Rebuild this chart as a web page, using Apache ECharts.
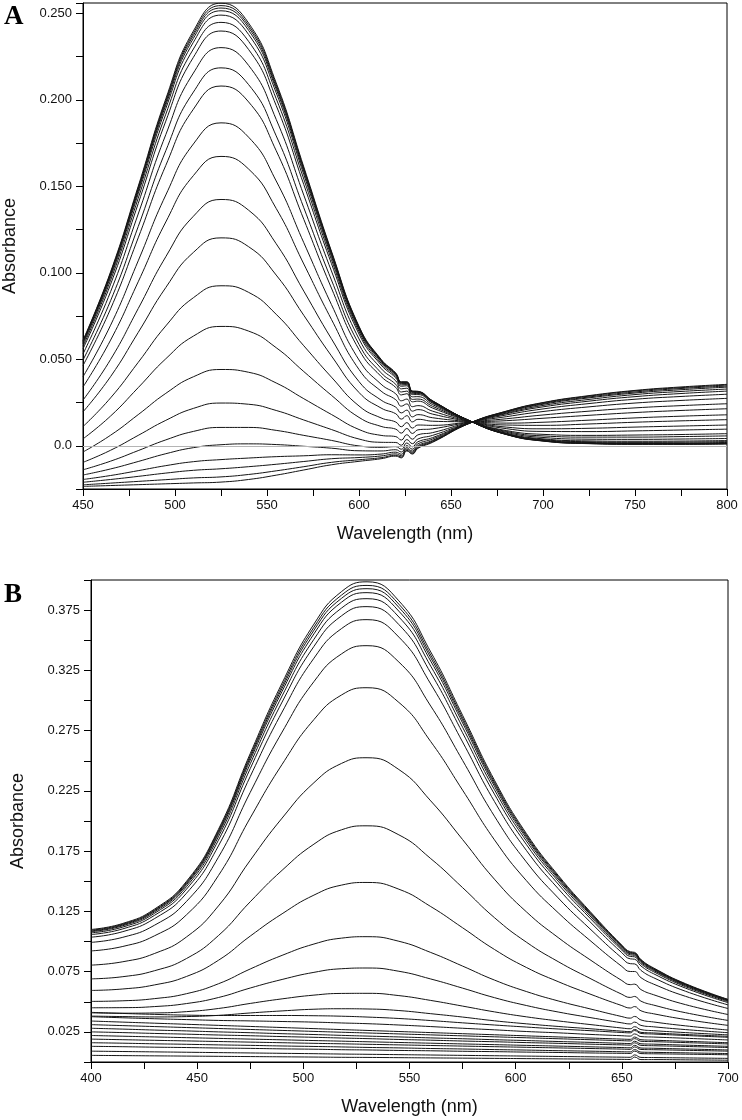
<!DOCTYPE html>
<html>
<head>
<meta charset="utf-8">
<script src="https://cdn.jsdelivr.net/npm/echarts@6/dist/echarts.min.js"></script>
<style>
html,body{margin:0;padding:0;background:#fff;}
#chart{width:742px;height:1120px;}
</style>
</head>
<body>
<div id="chart"></div>
<script>
// ---------- Panel A data ----------
const wavelengthsA = [450, 465, 480, 495, 510, 525, 540, 555, 570, 585, 600, 612, 620, 623, 626, 629, 632, 640, 660, 680, 700, 725, 750, 775, 800];
const A01 = [0.061, 0.1006, 0.150, 0.2006, 0.2398, 0.2559, 0.2444, 0.2098, 0.1612, 0.1126, 0.0691, 0.050, 0.042, 0.037, 0.037, 0.0317, 0.0315, 0.026, 0.0145, 0.0065, 0.0027, 0.0012, 0.0008, 0.0008, 0.001];
const A02 = [0.0606, 0.1000, 0.1491, 0.1995, 0.2385, 0.2545, 0.2431, 0.2087, 0.1603, 0.1120, 0.0687, 0.0497, 0.0418, 0.0368, 0.0368, 0.0315, 0.0313, 0.0259, 0.0145, 0.0066, 0.0028, 0.0013, 0.001, 0.001, 0.0012];
const A03 = [0.0602, 0.0994, 0.1483, 0.1984, 0.2372, 0.2531, 0.2418, 0.2075, 0.1595, 0.1114, 0.0683, 0.0494, 0.0415, 0.0366, 0.0366, 0.0313, 0.0312, 0.0258, 0.0145, 0.0066, 0.0029, 0.0015, 0.0011, 0.0011, 0.0013];
const A04 = [0.0597, 0.0986, 0.1472, 0.1970, 0.2356, 0.2515, 0.2402, 0.2062, 0.1584, 0.1106, 0.0679, 0.0491, 0.0412, 0.0363, 0.0364, 0.0311, 0.031, 0.0256, 0.0145, 0.0067, 0.0031, 0.0016, 0.0013, 0.0013, 0.0016];
const A05 = [0.0589, 0.0975, 0.1457, 0.1950, 0.2333, 0.2490, 0.2378, 0.2041, 0.1568, 0.1095, 0.0671, 0.0486, 0.0408, 0.0359, 0.036, 0.0308, 0.0307, 0.0254, 0.0145, 0.0068, 0.0033, 0.0019, 0.0016, 0.0016, 0.0019];
const A06 = [0.0576, 0.0957, 0.1431, 0.1917, 0.2294, 0.2448, 0.2338, 0.2007, 0.1542, 0.1077, 0.066, 0.0477, 0.0401, 0.0352, 0.0354, 0.0302, 0.0302, 0.025, 0.0144, 0.007, 0.0036, 0.0023, 0.002, 0.0021, 0.0024];
const A07 = [0.0561, 0.0934, 0.1400, 0.1877, 0.2246, 0.2398, 0.2291, 0.1967, 0.1510, 0.1054, 0.0646, 0.0467, 0.0392, 0.0344, 0.0347, 0.0296, 0.0296, 0.0246, 0.0144, 0.0073, 0.004, 0.0028, 0.0026, 0.0027, 0.003];
const A08 = [0.0531, 0.0891, 0.1340, 0.1799, 0.2155, 0.2302, 0.2199, 0.1887, 0.1449, 0.1011, 0.0618, 0.0447, 0.0375, 0.0329, 0.0333, 0.0283, 0.0284, 0.0238, 0.0144, 0.0078, 0.0048, 0.0038, 0.0037, 0.0039, 0.0042];
const A09 = [0.0496, 0.0839, 0.1267, 0.1706, 0.2045, 0.2185, 0.2088, 0.1792, 0.1376, 0.0959, 0.0586, 0.0422, 0.0355, 0.0311, 0.0316, 0.0268, 0.027, 0.0228, 0.0143, 0.0083, 0.0057, 0.005, 0.005, 0.0053, 0.0057];
const A10 = [0.0464, 0.0792, 0.1202, 0.1621, 0.1946, 0.2080, 0.1988, 0.1706, 0.1309, 0.0912, 0.0556, 0.0401, 0.0337, 0.0294, 0.0301, 0.0254, 0.0258, 0.0218, 0.0142, 0.0088, 0.0066, 0.006, 0.0062, 0.0065, 0.007];
const A11 = [0.0399, 0.0697, 0.1069, 0.1450, 0.1745, 0.1867, 0.1784, 0.1531, 0.1174, 0.0817, 0.0496, 0.0356, 0.03, 0.026, 0.027, 0.0226, 0.0232, 0.02, 0.0141, 0.0099, 0.0083, 0.0082, 0.0086, 0.0091, 0.0096];
const A12 = [0.0340, 0.0611, 0.0948, 0.1294, 0.1562, 0.1673, 0.1600, 0.1372, 0.1051, 0.0731, 0.0441, 0.0316, 0.0266, 0.0229, 0.0242, 0.02, 0.0209, 0.0183, 0.014, 0.0108, 0.0098, 0.0101, 0.0108, 0.0114, 0.012];
const A13 = [0.0264, 0.0499, 0.0793, 0.1093, 0.1327, 0.1424, 0.1362, 0.1168, 0.0894, 0.0619, 0.0371, 0.0264, 0.0223, 0.019, 0.0206, 0.0167, 0.018, 0.0162, 0.0139, 0.012, 0.0118, 0.0126, 0.0136, 0.0144, 0.0151];
const A14 = [0.0196, 0.0400, 0.0655, 0.0915, 0.1118, 0.1202, 0.1151, 0.0987, 0.0754, 0.0520, 0.0308, 0.0218, 0.0185, 0.0154, 0.0174, 0.0138, 0.0153, 0.0142, 0.0138, 0.0131, 0.0136, 0.0148, 0.0161, 0.0171, 0.0179];
const A15 = [0.0111, 0.0277, 0.0482, 0.0693, 0.0856, 0.0925, 0.0887, 0.0760, 0.0578, 0.0397, 0.023, 0.0161, 0.0137, 0.011, 0.0134, 0.0102, 0.012, 0.0118, 0.0136, 0.0145, 0.0159, 0.0176, 0.0192, 0.0204, 0.0214];
const A16 = [0.0040, 0.0172, 0.0336, 0.0503, 0.0634, 0.0690, 0.0663, 0.0567, 0.0429, 0.0292, 0.0164, 0.0112, 0.0096, 0.0073, 0.010, 0.0071, 0.0092, 0.0098, 0.0135, 0.0156, 0.0178, 0.02, 0.0219, 0.0232, 0.0243];
const A17 = [-0.0036, 0.0061, 0.0180, 0.0303, 0.0399, 0.0441, 0.0425, 0.0363, 0.0272, 0.0181, 0.0094, 0.006, 0.0053, 0.0033, 0.0064, 0.0038, 0.0063, 0.0076, 0.0134, 0.0168, 0.0198, 0.0225, 0.0247, 0.0262, 0.0274];
const A18 = [-0.0096, -0.0026, 0.0060, 0.0147, 0.0216, 0.0247, 0.0240, 0.0204, 0.0149, 0.0094, 0.0039, 0.002, 0.0019, 0.0003, 0.0036, 0.0012, 0.0039, 0.006, 0.0132, 0.0178, 0.0213, 0.0244, 0.0269, 0.0285, 0.0298];
const A19 = [-0.0139, -0.0089, -0.0028, 0.0034, 0.0083, 0.0106, 0.0106, 0.0089, 0.0060, 0.0031, -0.0001, -0.0009, -0.0005, -0.002, 0.0016, -0.0006, 0.0023, 0.0047, 0.0132, 0.0185, 0.0225, 0.0258, 0.0284, 0.0302, 0.0316];
const A20 = [-0.0169, -0.0134, -0.0091, -0.0046, -0.0011, 0.0006, 0.0011, 0.0007, -0.0003, -0.0014, -0.0029, -0.003, -0.0023, -0.0036, 0.0001, -0.002, 0.0011, 0.0039, 0.0131, 0.0189, 0.0233, 0.0268, 0.0296, 0.0314, 0.0328];
const A21 = [-0.0195, -0.0172, -0.0144, -0.0115, -0.0092, -0.0080, -0.0071, -0.0063, -0.0058, -0.0052, -0.0053, -0.0048, -0.0037, -0.0049, -0.0011, -0.0031, 0.0001, 0.0031, 0.0131, 0.0194, 0.024, 0.0277, 0.0305, 0.0324, 0.0339];
const A22 = [-0.0211, -0.0195, -0.0177, -0.0158, -0.0142, -0.0133, -0.0121, -0.0107, -0.0091, -0.0075, -0.0068, -0.0059, -0.0047, -0.0058, -0.0019, -0.0038, -0.0006, 0.0027, 0.013, 0.0196, 0.0244, 0.0282, 0.0311, 0.0331, 0.0345];
const A23 = [-0.0226, -0.0216, -0.0206, -0.0196, -0.0186, -0.0180, -0.0166, -0.0145, -0.0121, -0.0096, -0.0081, -0.0069, -0.0055, -0.0065, -0.0026, -0.0044, -0.0011, 0.0023, 0.013, 0.0199, 0.0248, 0.0287, 0.0317, 0.0336, 0.0351];
const A24 = [-0.0235, -0.023, -0.0225, -0.022, -0.0215, -0.021, -0.0195, -0.017, -0.014, -0.011, -0.009, -0.0075, -0.006, -0.007, -0.003, -0.0048, -0.0015, 0.002, 0.013, 0.020, 0.025, 0.029, 0.032, 0.034, 0.0355];
const spectraA = [A01, A02, A03, A04, A05, A06, A07, A08, A09, A10, A11, A12, A13, A14, A15, A16, A17, A18, A19, A20, A21, A22, A23, A24];

// ---------- Panel B data ----------
const wavelengthsB = [400, 415, 430, 445, 460, 475, 490, 505, 518, 530, 545, 560, 575, 590, 605, 620, 635, 650, 654, 656, 659, 665, 680, 700];
const B01 = [0.110, 0.115, 0.127, 0.150, 0.193, 0.256, 0.3145, 0.3634, 0.3904, 0.3985, 0.3827, 0.3403, 0.2877, 0.2339, 0.1897, 0.155, 0.125, 0.097, 0.0915, 0.091, 0.085, 0.078, 0.065, 0.052];
const B02 = [0.1094, 0.1144, 0.1262, 0.1491, 0.1917, 0.2542, 0.3122, 0.3608, 0.3875, 0.3955, 0.3799, 0.3378, 0.2856, 0.2322, 0.1884, 0.154, 0.1242, 0.0964, 0.0909, 0.0904, 0.0845, 0.0776, 0.0646, 0.0517];
const B03 = [0.1088, 0.1138, 0.1256, 0.1482, 0.1905, 0.2526, 0.3101, 0.3583, 0.3848, 0.3928, 0.3773, 0.3355, 0.2837, 0.2307, 0.1872, 0.153, 0.1235, 0.0959, 0.0904, 0.09, 0.084, 0.0771, 0.0643, 0.0515];
const B04 = [0.1082, 0.1131, 0.1247, 0.1472, 0.1891, 0.2506, 0.3076, 0.3553, 0.3816, 0.3895, 0.3741, 0.3327, 0.2814, 0.2288, 0.1857, 0.1518, 0.1226, 0.0952, 0.0898, 0.0894, 0.0835, 0.0766, 0.0639, 0.0512];
const B05 = [0.1072, 0.112, 0.1235, 0.1456, 0.1869, 0.2475, 0.3038, 0.3508, 0.3767, 0.3845, 0.3693, 0.3285, 0.2778, 0.226, 0.1835, 0.1501, 0.1212, 0.0942, 0.0889, 0.0885, 0.0826, 0.0759, 0.0633, 0.0508];
const B06 = [0.1058, 0.1105, 0.1218, 0.1435, 0.184, 0.2435, 0.2987, 0.3449, 0.3703, 0.3779, 0.363, 0.3229, 0.2732, 0.2223, 0.1806, 0.1477, 0.1194, 0.0929, 0.0876, 0.0873, 0.0815, 0.0749, 0.0625, 0.0502];
const B07 = [0.1036, 0.1082, 0.1191, 0.1401, 0.1793, 0.237, 0.2904, 0.3351, 0.3597, 0.3671, 0.3526, 0.3137, 0.2656, 0.2162, 0.1757, 0.1439, 0.1164, 0.0907, 0.0856, 0.0853, 0.0797, 0.0732, 0.0613, 0.0493];
const B08 = [0.0993, 0.1035, 0.1136, 0.1333, 0.1699, 0.2238, 0.2738, 0.3157, 0.3387, 0.3455, 0.3319, 0.2954, 0.2503, 0.204, 0.1661, 0.1362, 0.1105, 0.0863, 0.0816, 0.0814, 0.076, 0.0699, 0.0587, 0.0474];
const B09 = [0.0922, 0.0959, 0.1048, 0.1222, 0.1547, 0.2026, 0.247, 0.2842, 0.3046, 0.3106, 0.2984, 0.2659, 0.2256, 0.1844, 0.1506, 0.1239, 0.1009, 0.0793, 0.0751, 0.0751, 0.07, 0.0646, 0.0545, 0.0444];
const B10 = [0.0804, 0.0832, 0.0901, 0.1038, 0.1295, 0.1674, 0.2024, 0.2318, 0.2478, 0.2525, 0.2427, 0.2167, 0.1846, 0.1517, 0.1247, 0.1033, 0.0849, 0.0676, 0.0642, 0.0646, 0.0601, 0.0558, 0.0476, 0.0394];
const B11 = [0.069, 0.0708, 0.0758, 0.0859, 0.1049, 0.133, 0.1591, 0.1808, 0.1927, 0.196, 0.1885, 0.1688, 0.1447, 0.1198, 0.0995, 0.0833, 0.0694, 0.0562, 0.0536, 0.0544, 0.0505, 0.0472, 0.0409, 0.0345];
const B12 = [0.0594, 0.0606, 0.064, 0.071, 0.0844, 0.1045, 0.123, 0.1385, 0.1468, 0.149, 0.1434, 0.129, 0.1114, 0.0934, 0.0785, 0.0667, 0.0564, 0.0468, 0.0448, 0.046, 0.0425, 0.04, 0.0353, 0.0304];
const B13 = [0.0503, 0.0508, 0.0526, 0.0567, 0.0649, 0.0772, 0.0885, 0.0979, 0.1028, 0.104, 0.1002, 0.0909, 0.0796, 0.068, 0.0585, 0.0507, 0.0441, 0.0377, 0.0364, 0.0378, 0.0349, 0.0332, 0.03, 0.0265];
const B14 = [0.045, 0.0451, 0.046, 0.0485, 0.0535, 0.0614, 0.0685, 0.0744, 0.0774, 0.078, 0.0753, 0.0689, 0.0613, 0.0534, 0.0469, 0.0415, 0.0369, 0.0325, 0.0316, 0.0331, 0.0304, 0.0292, 0.0269, 0.0243];
const B15 = [0.0408, 0.0405, 0.0407, 0.0418, 0.0444, 0.0486, 0.0524, 0.0555, 0.0569, 0.057, 0.0551, 0.0511, 0.0464, 0.0416, 0.0375, 0.0341, 0.0311, 0.0282, 0.0276, 0.0293, 0.0269, 0.026, 0.0244, 0.0225];
const B16 = [0.0381, 0.0377, 0.0374, 0.0377, 0.0387, 0.0407, 0.0424, 0.0438, 0.0442, 0.044, 0.0427, 0.0401, 0.0373, 0.0342, 0.0317, 0.0295, 0.0276, 0.0256, 0.0252, 0.027, 0.0246, 0.0241, 0.0228, 0.0213];
const B17 = [0.0412, 0.0403, 0.0395, 0.0389, 0.0386, 0.0386, 0.0386, 0.0384, 0.038, 0.0373, 0.0361, 0.0344, 0.0325, 0.0307, 0.029, 0.0274, 0.026, 0.0245, 0.0242, 0.0261, 0.0237, 0.0232, 0.022, 0.0205];
const B18 = [0.0376, 0.0367, 0.0359, 0.0352, 0.0345, 0.0341, 0.0336, 0.0331, 0.0324, 0.0318, 0.0307, 0.0294, 0.028, 0.0267, 0.0253, 0.0242, 0.0229, 0.0218, 0.0215, 0.0233, 0.0211, 0.0207, 0.0197, 0.0183];
const B19 = [0.034, 0.0331, 0.0322, 0.0313, 0.0304, 0.0295, 0.0286, 0.0277, 0.0269, 0.0262, 0.0253, 0.0244, 0.0235, 0.0226, 0.0217, 0.0208, 0.0199, 0.019, 0.0188, 0.0207, 0.0185, 0.0181, 0.0172, 0.016];
const B20 = [0.031, 0.0302, 0.0294, 0.0286, 0.0278, 0.027, 0.0262, 0.0254, 0.0247, 0.0241, 0.0233, 0.0225, 0.0217, 0.0209, 0.0201, 0.0193, 0.0185, 0.0177, 0.0175, 0.0194, 0.0172, 0.0169, 0.0161, 0.015];
const B21 = [0.028, 0.0273, 0.0265, 0.0258, 0.025, 0.0243, 0.0235, 0.0228, 0.0221, 0.0215, 0.0208, 0.02, 0.0193, 0.0185, 0.0178, 0.017, 0.0163, 0.0155, 0.0153, 0.0172, 0.0151, 0.0148, 0.014, 0.013];
const B22 = [0.025, 0.0244, 0.0237, 0.0231, 0.0224, 0.0218, 0.0211, 0.0205, 0.0199, 0.0194, 0.0187, 0.0181, 0.0174, 0.0168, 0.0161, 0.0155, 0.0148, 0.0142, 0.014, 0.0159, 0.0138, 0.0135, 0.0129, 0.012];
const B23 = [0.022, 0.0214, 0.0208, 0.0202, 0.0196, 0.019, 0.0184, 0.0178, 0.0173, 0.0168, 0.0162, 0.0156, 0.015, 0.0144, 0.0138, 0.0132, 0.0126, 0.012, 0.0118, 0.0138, 0.0116, 0.0114, 0.0108, 0.010];
const B24 = [0.019, 0.0185, 0.018, 0.0175, 0.017, 0.0165, 0.016, 0.0155, 0.0151, 0.0147, 0.0142, 0.0137, 0.0132, 0.0127, 0.0122, 0.0117, 0.0112, 0.0107, 0.0105, 0.0125, 0.0104, 0.0102, 0.0097, 0.009];
const B25 = [0.016, 0.0156, 0.0151, 0.0147, 0.0142, 0.0138, 0.0133, 0.0129, 0.0125, 0.0121, 0.0117, 0.0112, 0.0108, 0.0103, 0.0099, 0.0094, 0.009, 0.0085, 0.0084, 0.0103, 0.0082, 0.008, 0.0076, 0.007];
const B26 = [0.013, 0.0127, 0.0123, 0.012, 0.0116, 0.0113, 0.0109, 0.0106, 0.0102, 0.01, 0.0096, 0.0093, 0.0089, 0.0086, 0.0082, 0.0079, 0.0075, 0.0072, 0.0071, 0.009, 0.007, 0.0068, 0.0065, 0.006];
const B27 = [0.009, 0.0087, 0.0084, 0.0081, 0.0078, 0.0075, 0.0072, 0.0069, 0.0066, 0.0064, 0.0061, 0.0058, 0.0055, 0.0052, 0.0049, 0.0046, 0.0043, 0.004, 0.0039, 0.0059, 0.0038, 0.0037, 0.0034, 0.003];
const B28 = [0.0055, 0.0053, 0.0051, 0.0049, 0.0047, 0.0045, 0.0043, 0.0041, 0.0039, 0.0038, 0.0036, 0.0034, 0.0032, 0.003, 0.0028, 0.0026, 0.0024, 0.0022, 0.0021, 0.0041, 0.002, 0.002, 0.0018, 0.0015];
const spectraB = [B01, B02, B03, B04, B05, B06, B07, B08, B09, B10, B11, B12, B13, B14, B15, B16, B17, B18, B19, B20, B21, B22, B23, B24, B25, B26, B27, B28];

// ---------- chart ----------
const FONT = 'Liberation Sans, Arial, sans-serif';
const chart = echarts.init(document.getElementById('chart'), null, {renderer: 'canvas'});

function near(v, step) { const q = v / step; return Math.abs(q - Math.round(q)) < 1e-6; }

const axisCommon = {
  axisLine: {show: true, onZero: false, lineStyle: {color: '#000', width: 1}},
  axisTick: {show: true, inside: false, length: 7, lineStyle: {color: '#000', width: 1}},
  splitLine: {show: false},
  nameTextStyle: {fontFamily: FONT, fontSize: 18, color: '#111'}
};

function lineSeries(xs, ys, xi, yi) {
  return {
    type: 'line', xAxisIndex: xi, yAxisIndex: yi,
    data: xs.map((w, i) => [w, ys[i]]),
    showSymbol: false, symbol: 'none', smooth: 0.5,
    lineStyle: {color: '#141414', width: 1}, silent: true, z: 3
  };
}

const series = [];
spectraA.forEach(s => series.push(lineSeries(wavelengthsA, s, 0, 0)));
spectraB.forEach(s => series.push(lineSeries(wavelengthsB, s, 1, 1)));
// zero reference line in panel A
series.push({
  type: 'line', xAxisIndex: 0, yAxisIndex: 0, data: [], silent: true,
  markLine: {silent: true, symbol: 'none', label: {show: false},
    lineStyle: {color: '#b4b4b4', width: 1, type: 'solid'}, data: [{yAxis: 0}]}, z: 2
});

const option = {
  animation: false,
  backgroundColor: '#fff',
  title: [
    {text: 'A', left: 4, top: 4, padding: 0, textStyle: {fontFamily: 'Liberation Serif, Times New Roman, serif', fontWeight: 'bold', fontSize: 27, color: '#000'}},
    {text: 'B', left: 4, top: 582, padding: 0, textStyle: {fontFamily: 'Liberation Serif, Times New Roman, serif', fontWeight: 'bold', fontSize: 27, color: '#000'}}
  ],
  grid: [
    {left: 83, top: 3, width: 644, height: 486, containLabel: false, outerBoundsMode: 'none',
     show: true, borderColor: '#000', borderWidth: 1, backgroundColor: 'transparent'},
    {left: 91, top: 580, width: 637, height: 482, containLabel: false, outerBoundsMode: 'none',
     show: true, borderColor: '#000', borderWidth: 1, backgroundColor: 'transparent'}
  ],
  xAxis: [
    Object.assign({}, axisCommon, {
      gridIndex: 0, type: 'value', min: 450, max: 800, interval: 25,
      name: 'Wavelength (nm)', nameLocation: 'middle', nameGap: 36,
      axisLabel: {margin: 10, fontFamily: FONT, fontSize: 13, color: '#111',
        formatter: v => near(v, 50) ? String(v) : ''}
    }),
    Object.assign({}, axisCommon, {
      gridIndex: 1, type: 'value', min: 400, max: 700, interval: 25,
      name: 'Wavelength (nm)', nameLocation: 'middle', nameGap: 36,
      axisLabel: {margin: 10, fontFamily: FONT, fontSize: 13, color: '#111',
        formatter: v => near(v, 50) ? String(v) : ''}
    })
  ],
  yAxis: [
    Object.assign({}, axisCommon, {
      gridIndex: 0, type: 'value', min: -0.025, max: 0.256, interval: 0.025,
      name: 'Absorbance', nameLocation: 'middle', nameGap: 64, nameRotate: 90,
      axisLabel: {margin: 11, fontFamily: FONT, fontSize: 13, color: '#111',
        formatter: v => {
          if (Math.abs(v) < 1e-9) return '0.0';
          return near(v, 0.05) ? v.toFixed(3) : '';
        }}
    }),
    Object.assign({}, axisCommon, {
      gridIndex: 1, type: 'value', min: 0, max: 0.4, interval: 0.025,
      name: 'Absorbance', nameLocation: 'middle', nameGap: 64, nameRotate: 90,
      axisLabel: {margin: 11, fontFamily: FONT, fontSize: 13, color: '#111',
        formatter: v => (near(v, 0.025) && !near(v, 0.05)) ? v.toFixed(3) : ''}
    })
  ],
  series: series
};
chart.setOption(option);
</script>
</body>
</html>
